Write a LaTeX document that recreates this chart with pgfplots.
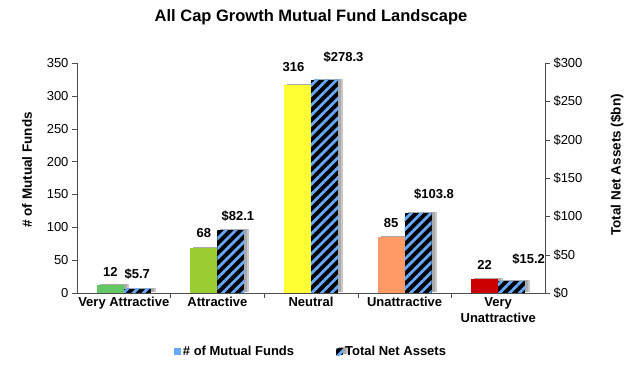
\documentclass[border=0pt]{standalone}
\usepackage{pgfplots}
\pgfplotsset{compat=1.18}
\usetikzlibrary{patterns.meta}
\usepackage{fontspec}
\setmainfont{Liberation Sans}
\definecolor{cVA}{RGB}{99,200,99}
\definecolor{cA}{RGB}{154,205,50}
\definecolor{cN}{RGB}{255,255,51}
\definecolor{cU}{RGB}{255,153,102}
\definecolor{cVU}{RGB}{204,0,0}
\definecolor{cBlue}{RGB}{102,170,255}
\definecolor{cShadow}{RGB}{200,200,200}
\definecolor{cShadowB}{RGB}{170,170,170}
\begin{document}
\begin{tikzpicture}[x=1pt,y=1pt]
\path[use as bounding box] (0,0) rectangle (630,367);
\node[font=\bfseries\fontsize{16.5}{19}\selectfont] at (311,350) {All Cap Growth Mutual Fund Landscape};
\pgfplotsset{
  myshadow/.style={preaction={fill=cShadow, draw=none, transform canvas={shift={(5pt,1pt)}}},
                   preaction={fill=cShadowB, draw=none, transform canvas={shift={(3pt,1pt)}}}},
  lbl/.style 2 args={nodes near coords style={xshift=#1pt, yshift=#2pt}},
}
\begin{axis}[
  at={(77pt,74pt)}, anchor=south west, scale only axis,
  width=468pt, height=230pt,
  xmin=-0.5, xmax=4.5, ymin=0, ymax=350,
  ytick={0,50,...,350},
  axis x line*=bottom, axis y line*=left,
  axis line style={-, draw=black!70},
  xtick={0.5,1.5,2.5,3.5}, xticklabels={},
  tick align=outside, major tick length=5pt,
  tick style={draw=black!70},
  extra x ticks={0,1,2,3,4},
  extra x tick labels={Very Attractive, Attractive, Neutral, Unattractive, {Very\\Unattractive}},
  extra x tick style={major tick length=0pt, tick label style={font=\bfseries\fontsize{13}{16}\selectfont, align=center, anchor=north, yshift=-1pt}},
  y tick label style={font=\fontsize{13}{15}\selectfont},
  /pgf/number format/assume math mode=true,
  ylabel={\# of Mutual Funds},
  every axis y label/.style={at={(axis description cs:-0.107,0.535)}, rotate=90, anchor=center},
  ylabel style={font=\bfseries\fontsize{13.5}{15}\selectfont},
  ybar, bar width=27pt, bar shift=-13.5pt,
  nodes near coords,
  every node near coord/.append style={font=\bfseries\fontsize{13}{15}\selectfont, black},
  clip=false,
]
\addplot[fill=cVA, draw=none, myshadow, lbl={0}{5}] coordinates {(0,12)};
\addplot[fill=cA, draw=none, myshadow, lbl={0}{7}] coordinates {(1,68)};
\addplot[fill=cN, draw=none, myshadow, lbl={-4}{10}] coordinates {(2,316)};
\addplot[fill=cU, draw=none, myshadow, lbl={0}{6}] coordinates {(3,85)};
\addplot[fill=cVU, draw=none, myshadow, lbl={0}{6}] coordinates {(4,22)};
\end{axis}
\begin{axis}[
  at={(77pt,74pt)}, anchor=south west, scale only axis,
  width=468pt, height=230pt,
  xmin=-0.5, xmax=4.5, ymin=0, ymax=300,
  ytick={0,50,...,300},
  axis x line=none, axis y line*=right,
  axis line style={-, draw=black!70},
  tick align=outside, major tick length=5pt,
  tick style={draw=black!70},
  yticklabel={\$\pgfmathprintnumber{\tick}},
  y tick label style={font=\fontsize{13}{15}\selectfont},
  /pgf/number format/assume math mode=true,
  ylabel={Total Net Assets (\$bn)},
  every axis y label/.style={at={(axis description cs:1.154,0.557)}, rotate=90, anchor=center},
  ylabel style={font=\bfseries\fontsize{13.5}{15}\selectfont},
  ybar, bar width=27pt, bar shift=13.5pt,
  nodes near coords={\$\pgfmathprintnumber[fixed,precision=1,fixed zerofill]{\pgfplotspointmeta}},
  every node near coord/.append style={font=\bfseries\fontsize{13}{15}\selectfont, black},
  clip=false,
  legend style={at={(axis description cs:0.5,-0.255)}, anchor=center, draw=none, legend columns=2,
    font=\bfseries\fontsize{13}{15}\selectfont,
    /tikz/every even column/.append style={column sep=40pt}},
  legend image code/.code={\draw[#1, draw=none] (0pt,-3.5pt) rectangle (7pt,3.5pt);},
  stripes/.style={draw=none, myshadow, preaction={fill=black}, pattern={Lines[angle=45, distance=7pt, line width=2.8pt]}, pattern color=cBlue},
]
\addlegendimage{fill=cBlue}
\addlegendentry{\# of Mutual Funds}
\addplot[stripes, lbl={0}{6}] coordinates {(0,5.7)};
\addlegendentry{Total Net Assets}
\addplot[stripes, lbl={7}{5}, forget plot] coordinates {(1,82.1)};
\addplot[stripes, lbl={19}{14}, forget plot] coordinates {(2,278.3)};
\addplot[stripes, lbl={16}{10}, forget plot] coordinates {(3,103.8)};
\addplot[stripes, lbl={17}{13}, forget plot] coordinates {(4,15.2)};
\end{axis}
\end{tikzpicture}
\end{document}
